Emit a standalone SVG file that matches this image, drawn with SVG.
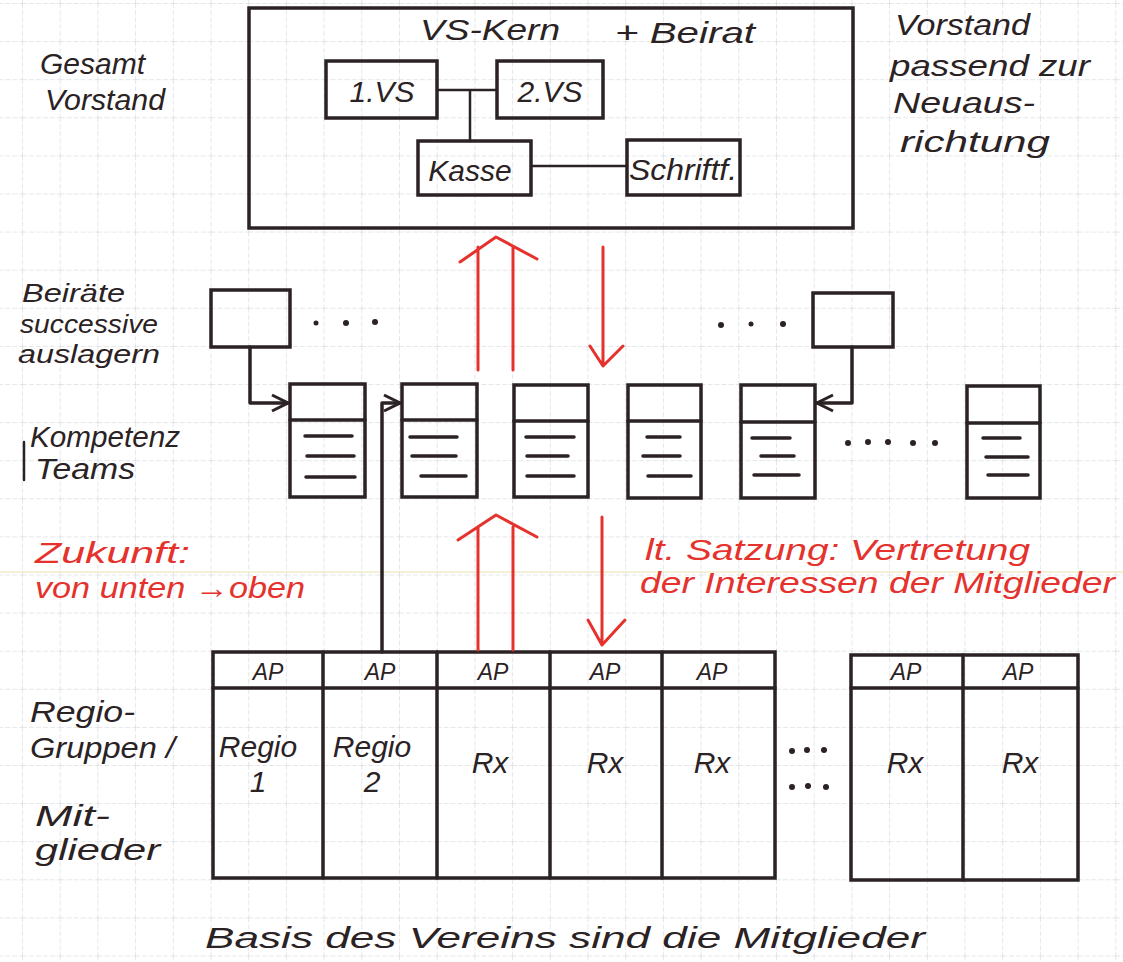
<svg xmlns="http://www.w3.org/2000/svg" width="1123" height="962" viewBox="0 0 1123 962">
<defs>
<pattern id="grid" x="22" y="3" width="37.7" height="38.1" patternUnits="userSpaceOnUse">
<path d="M0 0V38.1M0 0H37.7" fill="none" stroke="#c9cdd6" stroke-width="1" stroke-dasharray="5 2"/>
</pattern>
<marker id="chev" viewBox="0 0 20 20" refX="18" refY="10" markerWidth="20" markerHeight="20" markerUnits="userSpaceOnUse" orient="auto">
<path d="M2 2L18 10L2 18" fill="none" stroke="#2b2224" stroke-width="3"/>
</marker>
</defs>
<style>
.ink{fill:none;stroke:#2b2224;stroke-width:3.5;stroke-linecap:round;stroke-linejoin:round}
.thin{fill:none;stroke:#2b2224;stroke-width:2.5;stroke-linecap:round}
.red{fill:none;stroke:#e5322d;stroke-width:3;stroke-linecap:round;stroke-linejoin:round}
.box{fill:none;stroke:#2b2224;stroke-width:3.5}
text{font-family:"Liberation Sans",Arial,sans-serif;font-style:italic;fill:#2b2224}
.t{font-size:30px}
.m{font-size:26px}
.s{font-size:23px}
.r{fill:#e5322d;font-size:30px}
.c{text-anchor:middle}
.dot{fill:#2b2224}
</style>
<rect width="1123" height="962" fill="#ffffff"/>
<rect width="1123" height="962" fill="url(#grid)"/>
<line x1="0" y1="572" x2="1123" y2="572" stroke="#e6e3b0" stroke-width="1"/>

<g id="gesamtvorstand">
<rect class="box" x="249" y="8" width="604" height="220"/>
<text class="t" x="420" y="40" textLength="140" lengthAdjust="spacingAndGlyphs">VS-Kern</text>
<text class="t" x="615" y="43" textLength="140" lengthAdjust="spacingAndGlyphs">+ Beirat</text>
</g>

<g id="vs1">
<rect class="box" x="326" y="61" width="111" height="57"/>
<text class="t c" x="382" y="102" font-size="34">1.VS</text>
</g>
<g id="vs2">
<rect class="box" x="497" y="61" width="106" height="57"/>
<text class="t c" x="550" y="102" font-size="34">2.VS</text>
</g>
<g id="kasse">
<rect class="box" x="418" y="141" width="113" height="54"/>
<text class="t c" x="470" y="181">Kasse</text>
</g>
<g id="schriftf">
<rect class="box" x="627" y="140" width="113" height="55"/>
<text class="t c" x="683" y="180" textLength="108" lengthAdjust="spacingAndGlyphs">Schriftf.</text>
</g>

<g id="label-gesamt">
<text class="t" x="40" y="74" textLength="105" lengthAdjust="spacingAndGlyphs">Gesamt</text>
<text class="t" x="45" y="110" textLength="120" lengthAdjust="spacingAndGlyphs">Vorstand</text>
</g>
<g id="label-vorstand-passend">
<text class="t" x="895" y="35" textLength="135" lengthAdjust="spacingAndGlyphs">Vorstand</text>
<text class="t" x="890" y="76" textLength="200" lengthAdjust="spacingAndGlyphs">passend zur</text>
<text class="t" x="893" y="113" textLength="142" lengthAdjust="spacingAndGlyphs">Neuaus-</text>
<text class="t" x="900" y="152" textLength="150" lengthAdjust="spacingAndGlyphs">richtung</text>
</g>

<g id="beirat-left">
<rect class="box" x="211" y="290" width="79" height="57"/>
</g>
<g id="beirat-right">
<rect class="box" x="813" y="293" width="80" height="54"/>
</g>
<g id="dots-beirat">
<circle class="dot" cx="316" cy="323" r="2.5"/><circle class="dot" cx="346" cy="323" r="3"/><circle class="dot" cx="375" cy="322" r="3"/>
<circle class="dot" cx="721" cy="325" r="3"/><circle class="dot" cx="751" cy="324" r="2.5"/><circle class="dot" cx="783" cy="324" r="3"/>
</g>

<g id="label-beiraete">
<text class="m" x="22" y="302" textLength="103" lengthAdjust="spacingAndGlyphs">Beiräte</text>
<text class="m" x="20" y="333" textLength="138" lengthAdjust="spacingAndGlyphs">successive</text>
<text class="m" x="18" y="363" textLength="142" lengthAdjust="spacingAndGlyphs">auslagern</text>
</g>
<g id="label-teams">
<line class="thin" x1="24" y1="442" x2="24" y2="480"/>
<text class="t" x="30" y="447" textLength="150" lengthAdjust="spacingAndGlyphs">Kompetenz</text>
<text class="t" x="35" y="479" textLength="100" lengthAdjust="spacingAndGlyphs">Teams</text>
</g>

<g id="team1">
<rect class="box" x="290" y="384" width="75" height="113"/>
<path class="ink" d="M290 420H365M305 436H352M307 456H354M306 477H355"/>
</g>
<g id="team2">
<rect class="box" x="402" y="384" width="75" height="113"/>
<path class="ink" d="M402 420H477M410 437H457M412 456H456M421 476H466"/>
</g>
<g id="team3">
<rect class="box" x="514" y="385" width="74" height="112"/>
<path class="ink" d="M514 421H588M526 437H574M527 456H568M527 476H574"/>
</g>
<g id="team4">
<rect class="box" x="628" y="385" width="73" height="113"/>
<path class="ink" d="M628 421H701M647 437H680M643 456H680M648 476H691"/>
</g>
<g id="team5">
<rect class="box" x="741" y="385" width="74" height="113"/>
<path class="ink" d="M741 422H815M752 438H790M761 456H794M754 475H799"/>
</g>
<g id="team6">
<rect class="box" x="967" y="386" width="73" height="112"/>
<path class="ink" d="M967 423H1040M983 438H1020M986 457H1028M988 475H1028"/>
</g>
<g id="dots-teams">
<circle class="dot" cx="848" cy="443" r="3"/><circle class="dot" cx="868" cy="442" r="3"/><circle class="dot" cx="888" cy="442" r="3"/><circle class="dot" cx="913" cy="443" r="3"/><circle class="dot" cx="935" cy="443" r="3"/>
</g>

<g id="label-zukunft">
<text class="r" x="35" y="563" textLength="155" lengthAdjust="spacingAndGlyphs">Zukunft:</text>
<text class="r" x="35" y="598" textLength="270" lengthAdjust="spacingAndGlyphs">von unten →oben</text>
</g>
<g id="label-satzung">
<text class="r" x="645" y="560" textLength="385" lengthAdjust="spacingAndGlyphs">lt. Satzung: Vertretung</text>
<text class="r" x="640" y="593" textLength="475" lengthAdjust="spacingAndGlyphs">der Interessen der Mitglieder</text>
</g>

<g id="regio-table-left">
<rect class="box" x="213" y="652" width="562" height="226"/>
<path class="ink" d="M213 688H775M323 652V878M437 652V878M550 652V878M662 652V878"/>
</g>
<g id="regio1">
<text class="s c" x="268" y="680">AP</text>
<text class="t c" x="258" y="757">Regio</text>
<text class="t c" x="258" y="792">1</text>
</g>
<g id="regio2">
<text class="s c" x="380" y="680">AP</text>
<text class="t c" x="372" y="757">Regio</text>
<text class="t c" x="372" y="792">2</text>
</g>
<g id="regio3">
<text class="s c" x="493" y="680">AP</text>
<text class="t c" x="490" y="773">Rx</text>
</g>
<g id="regio4">
<text class="s c" x="605" y="680">AP</text>
<text class="t c" x="605" y="773">Rx</text>
</g>
<g id="regio5">
<text class="s c" x="712" y="680">AP</text>
<text class="t c" x="712" y="773">Rx</text>
</g>
<g id="dots-regio">
<circle class="dot" cx="792" cy="751" r="3"/><circle class="dot" cx="807" cy="750" r="3"/><circle class="dot" cx="824" cy="750" r="3"/>
<circle class="dot" cx="792" cy="787" r="3"/><circle class="dot" cx="808" cy="786" r="3"/><circle class="dot" cx="826" cy="787" r="3"/>
</g>
<g id="regio-table-right">
<rect class="box" x="851" y="655" width="227" height="225"/>
<path class="ink" d="M851 688H1078M963 655V880"/>
</g>
<g id="regio6">
<text class="s c" x="906" y="680">AP</text>
<text class="t c" x="905" y="773">Rx</text>
</g>
<g id="regio7">
<text class="s c" x="1018" y="680">AP</text>
<text class="t c" x="1020" y="773">Rx</text>
</g>

<g id="label-regio">
<text class="t" x="30" y="722" textLength="105" lengthAdjust="spacingAndGlyphs">Regio-</text>
<text class="t" x="30" y="758" textLength="145" lengthAdjust="spacingAndGlyphs">Gruppen /</text>
<text class="t" x="35" y="826" textLength="75" lengthAdjust="spacingAndGlyphs">Mit-</text>
<text class="t" x="35" y="860" textLength="125" lengthAdjust="spacingAndGlyphs">glieder</text>
</g>
<g id="label-basis">
<text class="t" x="205" y="948" textLength="720" lengthAdjust="spacingAndGlyphs">Basis des Vereins sind die Mitglieder</text>
</g>

<g id="connectors">
<path class="thin" d="M437 90H497M470 90V141"/>
<path class="thin" d="M531 166H627"/>
<path class="ink" d="M250 347V403H288" marker-end="url(#chev)"/>
<path class="ink" d="M852 347V403H817" marker-end="url(#chev)"/>
<path class="ink" d="M382 652V403H400" marker-end="url(#chev)"/>
<path class="red" d="M478 370V247M513 370V247M460 262L496 237L537 259"/>
<path class="red" d="M603 247V365M590 346L603 366L623 346"/>
<path class="red" d="M478 650V527M513 650V527M458 540L496 515L537 537"/>
<path class="red" d="M602 517V645M588 620L602 645L625 620"/>
</g>
</svg>
